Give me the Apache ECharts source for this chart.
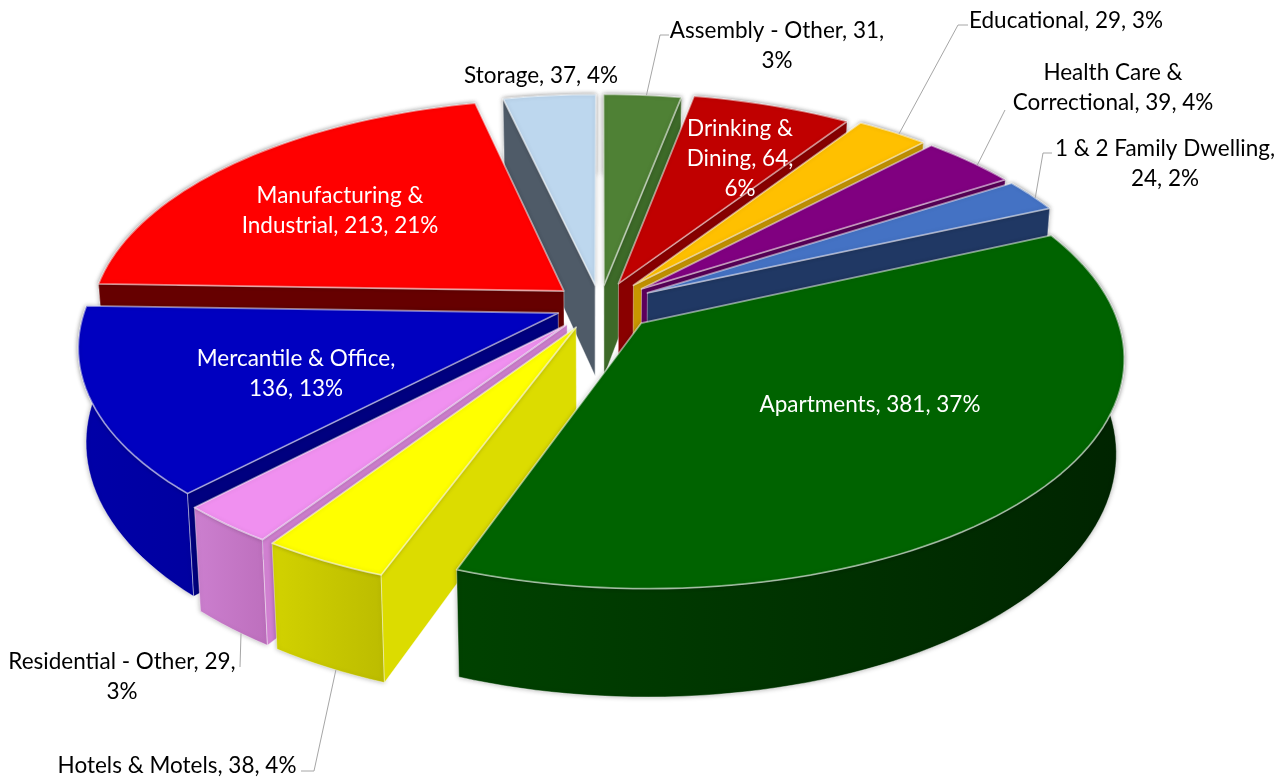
<!DOCTYPE html>
<html>
<head>
<meta charset="utf-8">
<title>Occupancy pie</title>
<script src="https://cdn.jsdelivr.net/npm/echarts@6/dist/echarts.min.js"></script>
<style>
  html, body { margin: 0; background: #fff; }
  #chart { width: 1287px; height: 778px; }
</style>
</head>
<body>
<div id="chart"></div>
<script>
// clockwise from 12 o'clock
const sliceNames = ['Assembly - Other', 'Drinking & Dining', 'Educational', 'Health Care & Correctional',
  '1 & 2 Family Dwelling', 'Apartments', 'Hotels & Motels', 'Residential - Other',
  'Mercantile & Office', 'Manufacturing & Industrial', 'Storage'];
const sliceValues = [31, 64, 29, 39, 24, 381, 38, 29, 136, 213, 37];
const labelTemplates = ['Assembly - Other, {v},\n{p}', 'Drinking &\nDining, {v},\n{p}', 'Educational, {v}, {p}',
  'Health Care &\nCorrectional, {v}, {p}', '1 & 2 Family Dwelling,\n{v}, {p}', 'Apartments, {v}, {p}',
  'Hotels & Motels, {v}, {p}', 'Residential - Other, {v},\n{p}', 'Mercantile & Office,\n{v}, {p}',
  'Manufacturing &\nIndustrial, {v}, {p}', 'Storage, {v}, {p}'];

// look of each slice
const topColors = ['#4f8135', '#c00000', '#ffc000', '#800080', '#4472c4', '#006300', '#ffff00', '#f090f0', '#0000c0', '#ff0000', '#bdd7ee'];
const cutColors = ['#3d6a28', '#8a0000', '#c89600', '#5c005c', '#203864', '#003a00', '#dcdc00', '#d080d0', '#000080', '#660000', '#4f5b68'];
const wallColors = [
  ['#3d6a28', '#3d6a28'], ['#8a0000', '#8a0000'], ['#c89600', '#c89600'], ['#5c005c', '#5c005c'],
  ['#203864', '#203864'], ['#004200', '#002400'], ['#d2d200', '#bcbc00'], ['#cc7fcf', '#bd6fbd'],
  ['#0000a8', '#0000a0'], ['#660000', '#660000'], ['#44546a', '#44546a']
];
const explodeBy = [0.09, 0.105, 0.115, 0.115, 0.115, 0.118, 0.11, 0.11, 0.095, 0.1, 0.09];
// rear slices first, the big front one last
const drawOrder = [10, 0, 1, 2, 3, 4, 9, 8, 7, 6, 5];

// label centre, text colour and leader elbow (null = no leader)
const labelSpots = [
  { at: [777, 46], color: '#000', elbow: [[669, 35], [660, 35]], rim: 0.55, bottom: false },
  { at: [740, 159], color: '#fff' },
  { at: [1066, 21], color: '#000', elbow: [[968, 25], [958, 25]], rim: 0.6, bottom: false },
  { at: [1113, 88], color: '#000', elbow: [[1005, 110]], rim: 0.6, bottom: false },
  { at: [1165, 164], color: '#000', elbow: [[1052, 153], [1043, 153]], rim: 0.6, bottom: false },
  { at: [870, 405], color: '#fff' },
  { at: [177, 766], color: '#000', elbow: [[301, 771], [314, 771]], rim: 0.43, bottom: true },
  { at: [122, 677], color: '#000', elbow: [[240, 667]], rim: 0.37, bottom: true },
  { at: [296, 374], color: '#fff' },
  { at: [340, 211], color: '#fff' },
  { at: [541, 76], color: '#000' }
];

const CX = 600, CY = 305, RADIUS = 472, TILT = 0.472, PERSP = 0.14, DEPTH = 92, SHRINK = 0.015;
const total = sliceValues.reduce((a, b) => a + b, 0);

// slice start/end angle, radians clockwise from top
const sliceAngles = [];
sliceValues.reduce((sum, v) => {
  sliceAngles.push([sum / total * 2 * Math.PI, (sum + v) / total * 2 * Math.PI]);
  return sum + v;
}, 0);

function project(x, y, z) {
  const s = 1 / (1 - PERSP * y);
  return [CX + x * RADIUS * s * (1 - SHRINK * z), CY + y * RADIUS * TILT * s + z * DEPTH * s];
}

function slicePoint(i, angle, r, z) {
  const mid = (sliceAngles[i][0] + sliceAngles[i][1]) / 2;
  const x = r * Math.sin(angle) + explodeBy[i] * Math.sin(mid);
  const y = -r * Math.cos(angle) - explodeBy[i] * Math.cos(mid);
  return project(x, y, z);
}

function cross(o, a, b) {
  return (a[0] - o[0]) * (b[1] - o[1]) - (a[1] - o[1]) * (b[0] - o[0]);
}

function poly(points, fill, stroke, width) {
  return {
    type: 'polygon',
    shape: { points: points },
    style: { fill: fill, stroke: stroke, lineWidth: width, lineJoin: 'round' }
  };
}

function renderSlice(params, api) {
  const i = api.value(1);
  const a0 = sliceAngles[i][0], a1 = sliceAngles[i][1];
  const steps = Math.max(4, Math.ceil((a1 - a0) / 0.03));
  const topArc = [], botArc = [];
  for (let k = 0; k <= steps; k++) {
    const a = a0 + (a1 - a0) * k / steps;
    topArc.push(slicePoint(i, a, 1, 0));
    botArc.push(slicePoint(i, a, 1, 1));
  }
  const apexTop = slicePoint(i, a0, 0, 0), apexBot = slicePoint(i, a0, 0, 1);
  const midRim = topArc[Math.floor(steps / 2)];
  const children = [];

  const wallFill = new echarts.graphic.LinearGradient(0, 0, 1, 0, [
    { offset: 0, color: wallColors[i][0] },
    { offset: 1, color: wallColors[i][1] }
  ]);
  const wall = poly(topArc.concat(botArc.slice().reverse()), wallFill, 'rgba(255,255,255,0.4)', 1);
  wall.style.shadowBlur = 5;
  wall.style.shadowColor = 'rgba(0,0,0,0.3)';
  children.push(wall);

  // only the cut faces turned to the viewer
  [[topArc[0], botArc[0]], [topArc[steps], botArc[steps]]].forEach(function (e) {
    if (cross(apexTop, e[0], midRim) * cross(apexTop, e[0], apexBot) < 0) {
      children.push(poly([apexTop, e[0], e[1], apexBot], cutColors[i], 'rgba(255,255,255,0.4)', 1));
    }
  });

  const top = poly([apexTop].concat(topArc), topColors[i], 'rgba(255,255,255,0.5)', 1.8);
  top.style.shadowBlur = 4;
  top.style.shadowColor = 'rgba(0,0,0,0.2)';
  children.push(top);
  return { type: 'group', children: children };
}

function renderLabel(params, api) {
  const i = api.value(1);
  const spot = labelSpots[i];
  const pct = Math.round(sliceValues[i] / total * 100) + '%';
  const text = labelTemplates[i].replace('{v}', sliceValues[i]).replace('{p}', pct);
  const children = [];
  if (spot.elbow) {
    const a = sliceAngles[i][0] + (sliceAngles[i][1] - sliceAngles[i][0]) * spot.rim;
    const end = slicePoint(i, a, 1, spot.bottom ? 1 : 0);
    children.push({
      type: 'polyline',
      shape: { points: spot.elbow.concat([end]) },
      style: { fill: 'none', stroke: '#a6a6a6', lineWidth: 1 }
    });
  }
  children.push({
    type: 'text',
    style: {
      x: spot.at[0], y: spot.at[1], text: text, fill: spot.color,
      font: '22.5px Lato', lineHeight: 30, align: 'center', verticalAlign: 'middle'
    }
  });
  return { type: 'group', children: children };
}

const chart = echarts.init(document.getElementById('chart'), null, { renderer: 'canvas' });
chart.setOption({
  backgroundColor: '#ffffff',
  animation: false,
  series: [
    {
      type: 'custom',
      name: 'slices',
      coordinateSystem: 'none',
      renderItem: renderSlice,
      silent: true,
      data: drawOrder.map(i => ({ name: sliceNames[i], value: [sliceValues[i], i] }))
    },
    {
      type: 'custom',
      name: 'labels',
      coordinateSystem: 'none',
      renderItem: renderLabel,
      silent: true,
      z: 5,
      data: sliceValues.map((v, i) => ({ name: sliceNames[i], value: [v, i] }))
    }
  ]
});
</script>
</body>
</html>
